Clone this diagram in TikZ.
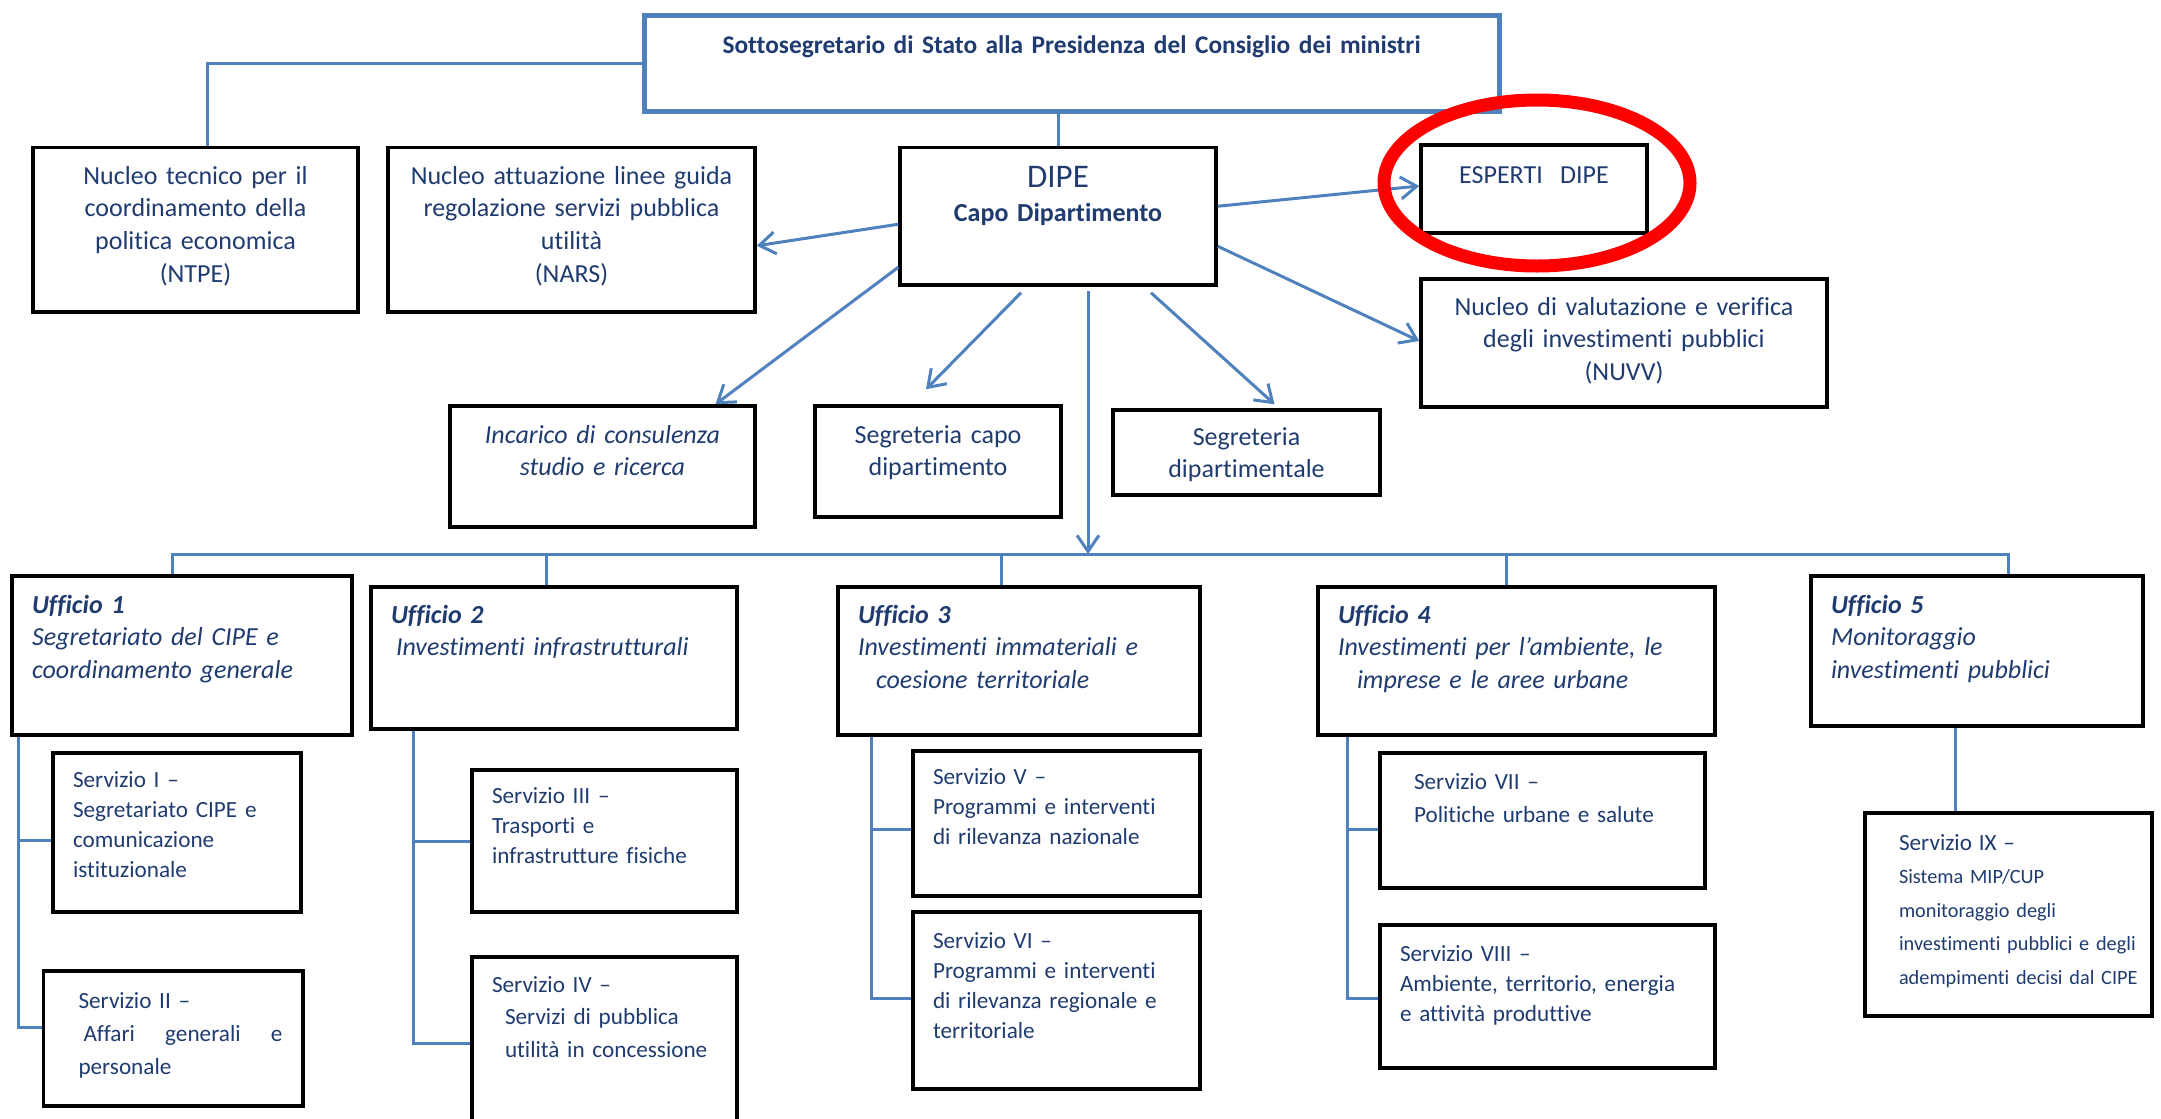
\documentclass[tikz,border=0pt]{standalone}
\usepackage{fontspec}
\setmainfont{Carlito}[Ligatures=NoCommon]
\usetikzlibrary{arrows.meta,calc}

\definecolor{navy}{RGB}{31,59,111}
\definecolor{linkblue}{RGB}{79,129,189}

\newcommand{\bigtxt}{\fontsize{26pt}{32.7pt}\selectfont}
\newcommand{\smalltxt}{\fontsize{23.2pt}{30pt}\selectfont}

\tikzset{
  unit/.style={draw=black, line width=3.5pt, inner sep=0pt, text=navy, font=\bigtxt, align=center},
  office/.style={unit, align=left, inner xsep=20pt, font=\bigtxt\itshape},
  service/.style={unit, align=left, inner xsep=20pt, font=\smalltxt},
  link/.style={draw=linkblue, line width=3pt},
  arrow/.style={link, -{Straight Barb[length=16pt,width=22pt]}},
}

\begin{document}
\begin{tikzpicture}[x=1pt,y=-1pt]
      \useasboundingbox (0,0) rectangle (2161,1119);
      \clip (0,0) rectangle (2161,1119);
      % top level
      \node[unit, draw=linkblue, line width=5pt, font=\fontsize{25.4pt}{32.7pt}\selectfont\bfseries, text width=855pt, text height=38pt, text depth=58pt] (top) at (1071.5,63) {Sottosegretario di Stato alla Presidenza del Consiglio dei ministri};
      \node[unit, text width=325pt, text height=36.5pt, text depth=128pt] (ntpe) at (195.5,229.75) {Nucleo tecnico per il\\ coordinamento della\\ politica economica\\ (NTPE)};
      \node[unit, text width=367pt, text height=36.5pt, text depth=128pt] (nars) at (571.5,229.75) {Nucleo attuazione linee guida\\ regolazione servizi pubblica\\ utilità\\ (NARS)};
      \node[unit, text width=316pt, text height=39.5pt, text depth=98pt] (dipe) at (1058,216.25) {{\fontsize{33pt}{40pt}\selectfont DIPE}\\[2pt] \textbf{Capo Dipartimento}};
      \node[unit, text width=226pt, text height=38pt, text depth=50pt] (esperti) at (1534,189) {ESPERTI\ \ DIPE};
      \node[unit, text width=406pt, text height=36pt, text depth=92pt] (nuvv) at (1624,343) {Nucleo di valutazione e verifica\\ degli investimenti pubblici\\ (NUVV)};
      \node[unit, font=\bigtxt\itshape, text width=305pt, text height=37pt, text depth=84pt] (incarico) at (602.5,466.5) {Incarico di consulenza\\ studio e ricerca};
      \node[unit, text width=246pt, text height=37pt, text depth=74pt] (segcapo) at (938,461.5) {Segreteria capo\\ dipartimento};
      \node[unit, text width=267pt, text height=35pt, text depth=50pt] (segdip) at (1246.5,452.5) {Segreteria\\ dipartimentale};
      % uffici
      \node[office, text width=300pt, text height=37pt, text depth=122pt] (u1) at (182,655.5) {\textbf{Ufficio 1}\\ Segretariato del CIPE e\\ coordinamento generale};
      \node[office, text width=326pt, text height=36pt, text depth=106pt] (u2) at (554,658) {\textbf{Ufficio 2}\\ \hspace*{5pt}Investimenti infrastrutturali};
      \node[office, text width=322pt, text height=36pt, text depth=112pt] (u3) at (1019,661) {\textbf{Ufficio 3}\\ Investimenti immateriali e\\ \hspace*{18pt}coesione territoriale};
      \node[office, text width=357pt, text height=36pt, text depth=112pt] (u4) at (1516.5,661) {\textbf{Ufficio 4}\\ Investimenti per l’ambiente, le\\ \hspace*{19pt}imprese e le aree urbane};
      \node[office, text width=292pt, text height=37pt, text depth=113pt] (u5) at (1977,651) {\textbf{Ufficio 5}\\ Monitoraggio\\ investimenti pubblici};
      % servizi
      \node[service, text width=208pt, text height=34pt, text depth=125pt] (s1) at (177,832.5) {Servizio I –\\ Segretariato CIPE e\\ comunicazione\\ istituzionale};
      \node[service, font=\fontsize{23.2pt}{33pt}\selectfont, text width=219.5pt, text height=37pt, text depth=98pt] (s2) at (173.25,1038.5) {\hspace*{15pt}Servizio II –\\ \hspace*{20pt}\makebox[199pt][l]{Affari\hfill generali\hfill e}\\ \hspace*{15pt}personale};
      \node[service, text width=225pt, text height=33pt, text depth=109pt] (s3) at (604.5,841) {Servizio III –\\ Trasporti e\\ infrastrutture fisiche};
      \node[service, font=\fontsize{23.2pt}{32.5pt}\selectfont, text width=225pt, text height=35pt, text depth=137pt] (s4) at (604.5,1043) {Servizio IV –\\ \hspace*{13pt}Servizi di pubblica\\ \hspace*{13pt}utilità in concessione};
      \node[service, text width=247pt, text height=33pt, text depth=112pt] (s5) at (1056.5,823.5) {Servizio V –\\ Programmi e interventi\\ di rilevanza nazionale};
      \node[service, text width=247pt, text height=36pt, text depth=141pt] (s6) at (1056.5,1000.5) {Servizio VI –\\ Programmi e interventi\\ di rilevanza regionale e\\ territoriale};
      \node[service, font=\fontsize{23.2pt}{33pt}\selectfont, inner xsep=34pt, text width=257pt, text height=36pt, text depth=99pt] (s7) at (1542.5,820.5) {Servizio VII –\\ Politiche urbane e salute};
      \node[service, text width=295pt, text height=36pt, text depth=107pt] (s8) at (1547.5,996.5) {Servizio VIII –\\ Ambiente, territorio, energia\\ e attività produttive};
      \node[service, font=\fontsize{20.3pt}{33.5pt}\selectfont, inner xsep=4pt, text width=279pt, text height=37pt, text depth=166pt] (s9) at (2008.5,914.5) {\hspace*{30pt}{\smalltxt Servizio IX –}\\ \hspace*{30pt}Sistema MIP/CUP\\ \hspace*{30pt}monitoraggio degli\\ \hspace*{30pt}investimenti pubblici e degli\\ \hspace*{30pt}adempimenti decisi dal CIPE};
      % connectors
      \coordinate (bus) at (1088,554);
      \draw[link] (top.west) -| ([xshift=12pt]ntpe.north);
      \draw[link] (dipe.north) -- (dipe.north |- top.south);
      \draw[arrow] ([yshift=-8pt]dipe.west) -- ([yshift=-16pt]nars.east);
      \draw[arrow] ([yshift=-51pt]dipe.west) -- ([xshift=113pt]incarico.north);
      \draw[arrow] ([xshift=-37pt,yshift=-6pt]dipe.south) -- ([xshift=-12pt,yshift=15pt]segcapo.north);
      \draw[arrow] ([xshift=93pt,yshift=-6pt]dipe.south) -- ([xshift=28pt,yshift=4pt]segdip.north);
      \draw[arrow] ([yshift=10pt]dipe.east) -- ([yshift=3pt]esperti.west);
      \draw[arrow] ([yshift=-30pt]dipe.east) -- ([yshift=2pt]nuvv.west);
      \draw[arrow] ([xshift=30pt,yshift=-4pt]dipe.south) -- (bus);
      \foreach \u/\dx in {u1/-10,u2/-8,u3/-18,u4/-10.5,u5/31}
        \draw[link] ($(\u.north)+(\dx,0)$) |- (bus);
      \foreach \u/\dx/\ua/\ya/\ub/\yb in {u1/8/s1/8/s2/-11, u2/44/s3/0/s4/0, u3/35/s5/6/s6/-2, u4/31/s7/9/s8/2}
        \draw[link] ($(\u.south west)+(\dx,0)$) |- ($(\ua.west)+(0,\ya)$)
                    ($(\u.south west)+(\dx,0)$) |- ($(\ub.west)+(0,\yb)$);
      \coordinate (k5) at ($(u5.south)+(-22,0)$);
      \draw[link] (k5) -- (k5 |- s9.north);
      % highlight
      \draw[red, line width=13pt] (1537,183) ellipse [x radius=153pt, y radius=83pt];
\end{tikzpicture}
\end{document}
